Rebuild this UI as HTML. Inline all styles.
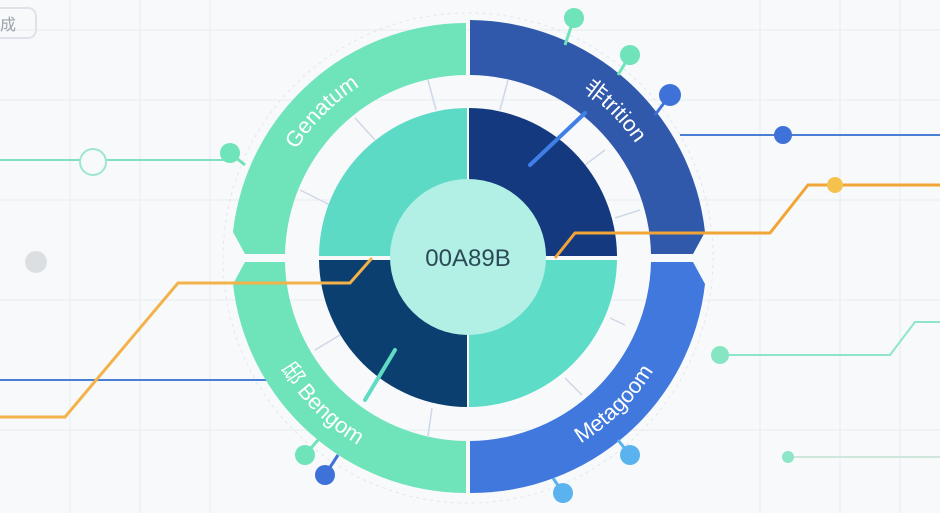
<!DOCTYPE html>
<html><head><meta charset="utf-8"><style>
html,body{margin:0;padding:0;background:#f7f9fb;}
svg{display:block;font-family:"Liberation Sans","Noto Sans CJK SC",sans-serif;}
</style></head><body>
<svg width="940" height="513" viewBox="0 0 940 513" xmlns="http://www.w3.org/2000/svg">
<rect width="940" height="513" fill="#f7f9fb"/>
<g stroke="#e9edf1" stroke-width="1">
<line x1="0" y1="30" x2="940" y2="30"/><line x1="0" y1="100" x2="940" y2="100"/>
<line x1="0" y1="200" x2="940" y2="200"/><line x1="0" y1="300" x2="940" y2="300"/>
<line x1="0" y1="430" x2="940" y2="430"/>
<line x1="70" y1="0" x2="70" y2="513"/><line x1="140" y1="0" x2="140" y2="513"/>
<line x1="210" y1="0" x2="210" y2="513"/><line x1="760" y1="0" x2="760" y2="513"/>
<line x1="840" y1="0" x2="840" y2="513"/><line x1="900" y1="0" x2="900" y2="513"/>
</g>
<rect x="-10" y="8" width="46" height="30" rx="8" fill="none" stroke="#dde3e8" stroke-width="2"/>
<text x="0" y="30" font-size="16" fill="#9aa3ab">成</text>
<circle cx="468" cy="258" r="245" fill="none" stroke="#e3e7eb" stroke-dasharray="3 4"/>
<!-- left connectors -->
<line x1="0" y1="160" x2="230" y2="160" stroke="#7fe0c2" stroke-width="2"/>
<circle cx="93" cy="162" r="13" fill="#f7f9fb" stroke="#9fe6cf" stroke-width="2"/>
<circle cx="36" cy="262" r="11" fill="#dcdfe2"/>
<line x1="0" y1="380" x2="310" y2="380" stroke="#4a7fd6" stroke-width="2"/>
<!-- right connectors -->
<line x1="680" y1="135" x2="940" y2="135" stroke="#4a7fd6" stroke-width="2"/>
<circle cx="783" cy="135" r="9" fill="#3f72d8"/>
<polyline points="720,355 890,355 915,322 940,322" fill="none" stroke="#8fe5cc" stroke-width="2"/>
<circle cx="720" cy="355" r="9" fill="#86e6c4"/>
<line x1="788" y1="457" x2="940" y2="457" stroke="#cfe6dd" stroke-width="2"/>
<circle cx="788" cy="457" r="6" fill="#8de6c8"/>
<!-- outer band -->
<path d="M233,232 A235,235 0 0 1 466,23 L466,75 A183,183 0 0 0 285,254 L245,254 Z" fill="#6fe3b9"/>
<path d="M470,20 A238,238 0 0 1 705,232 L693,254 L651,254 A183,183 0 0 0 470,75 Z" fill="#3058ab"/>
<path d="M245,262 L233,284 A235,235 0 0 0 466,493 L466,441 A183,183 0 0 1 285,262 Z" fill="#6fe3b9"/>
<path d="M470,493 A235,235 0 0 0 705,284 L693,262 L651,262 A183,183 0 0 1 470,441 Z" fill="#4078de"/>
<!-- faint spokes in gap -->
<g stroke="#cfd8e6" stroke-width="1.5">
<line x1="428" y1="80" x2="436" y2="110"/><line x1="355" y1="118" x2="375" y2="140"/>
<line x1="300" y1="190" x2="330" y2="205"/><line x1="508" y1="80" x2="500" y2="110"/>
<line x1="605" y1="150" x2="585" y2="165"/><line x1="640" y1="210" x2="615" y2="218"/>
<line x1="315" y1="350" x2="340" y2="335"/><line x1="428" y1="436" x2="432" y2="408"/>
<line x1="582" y1="395" x2="565" y2="378"/><line x1="625" y1="325" x2="610" y2="318"/>
</g>
<!-- quadrants -->
<path d="M319,256 A149,149 0 0 1 467,108 L467,256 Z" fill="#5cdac6"/>
<path d="M469,108 A149,149 0 0 1 617,256 L469,256 Z" fill="#14397e"/>
<path d="M319,260 A149,149 0 0 0 467,407 L467,260 Z" fill="#0a3f6f"/>
<path d="M469,407 A149,149 0 0 0 617,260 L469,260 Z" fill="#5ddcc8"/>
<line x1="530" y1="165" x2="585" y2="113" stroke="#3f7fe6" stroke-width="4" stroke-linecap="round"/>
<line x1="365" y1="400" x2="395" y2="350" stroke="#5fdcc2" stroke-width="4" stroke-linecap="round"/>
<polyline points="0,417 65,417 178,283 350,283 372,258" fill="none" stroke="#f3b24a" stroke-width="3"/>
<polyline points="555,258 575,233 770,233 808,185 940,185" fill="none" stroke="#f0a536" stroke-width="3"/>
<circle cx="835" cy="185" r="8" fill="#f6c24e"/>
<circle cx="468" cy="257" r="78" fill="#b2f0e6"/>
<text x="468" y="266" font-size="24" fill="#2b4a55" text-anchor="middle">00A89B</text>
<!-- pins -->
<g stroke-width="3">
<line x1="565" y1="45" x2="574" y2="18" stroke="#6fe3b9"/><circle cx="574" cy="18" r="10" fill="#6fe3b9"/>
<line x1="618" y1="75" x2="630" y2="55" stroke="#6fe3b9"/><circle cx="630" cy="55" r="10" fill="#6fe3b9"/>
<line x1="655" y1="115" x2="670" y2="95" stroke="#3f72d8"/><circle cx="670" cy="95" r="11" fill="#3f72d8"/>
<line x1="245" y1="165" x2="230" y2="153" stroke="#6fe3b9"/><circle cx="230" cy="153" r="10" fill="#6fe3b9"/>
<line x1="318" y1="440" x2="305" y2="455" stroke="#6fe3b9"/><circle cx="305" cy="455" r="10" fill="#6fe3b9"/>
<line x1="338" y1="455" x2="325" y2="475" stroke="#3f72d8"/><circle cx="325" cy="475" r="10" fill="#3f72d8"/>
<line x1="618" y1="440" x2="630" y2="455" stroke="#5ab3ee"/><circle cx="630" cy="455" r="10" fill="#5ab3ee"/>
<line x1="553" y1="478" x2="563" y2="493" stroke="#5ab3ee"/><circle cx="563" cy="493" r="10" fill="#5ab3ee"/>
</g>
<defs>
<path id="pTL" d="M265,258 A203,203 0 0 1 468,55"/>
<path id="pTR" d="M468,55 A203,203 0 0 1 671,258"/>
<path id="pBL" d="M251,258 A217,217 0 0 0 468,475"/>
<path id="pBR" d="M468,475 A217,217 0 0 0 685,258"/>
</defs>
<g font-size="22" fill="#ffffff">
<text><textPath href="#pTL" startOffset="50%" text-anchor="middle">Genatum</textPath></text>
<text><textPath href="#pTR" startOffset="50%" text-anchor="middle">非trition</textPath></text>
<text><textPath href="#pBL" startOffset="50%" text-anchor="middle">邸 Bengom</textPath></text>
<text><textPath href="#pBR" startOffset="50%" text-anchor="middle">Metagoom</textPath></text>
</g>
</svg>
</body></html>
